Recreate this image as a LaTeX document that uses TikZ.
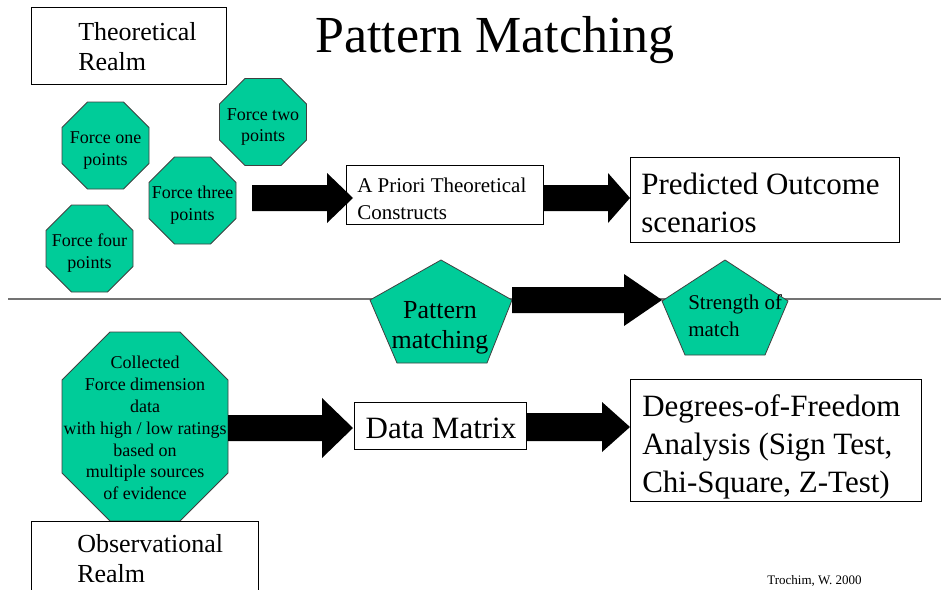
\documentclass[tikz,border=0pt]{standalone}
\usepackage{fontspec}
\setmainfont{Liberation Serif}
\usetikzlibrary{fit,calc}
\definecolor{tealfill}{RGB}{0,204,153}
\newcommand\fsz[2]{\fontsize{#1}{#2}\selectfont}
\newcommand\blockarr[5]{%
  \fill[black] let \p1=(#1), \p2=(#2) in
    (\x1,\y1+#3) -- (\x2-#5,\y1+#3) -- (\x2-#5,\y1+#4) -- (\x2,\y1) --
    (\x2-#5,\y1-#4) -- (\x2-#5,\y1-#3) -- (\x1,\y1-#3) -- cycle;}
% octagon: centre x, centre y, half width, half height, corner cut
\newcommand\octpath[5]{%
  \filldraw[octshape] (#1-#3+#5,#2-#4) -- (#1+#3-#5,#2-#4) -- (#1+#3,#2-#4+#5) --
    (#1+#3,#2+#4-#5) -- (#1+#3-#5,#2+#4) -- (#1-#3+#5,#2+#4) -- (#1-#3,#2+#4-#5) --
    (#1-#3,#2-#4+#5) -- cycle;}
\begin{document}
\begin{tikzpicture}[x=0.75pt,y=-0.75pt,
  box/.style={draw=black, line width=0.75pt, fill=white, inner sep=0pt},
  octshape/.style={draw=black!75, line width=0.6pt, fill=tealfill},
  pent/.style={draw=black!75, line width=0.6pt, fill=tealfill},
  ltxt/.style={inner sep=0pt, align=left, anchor=west},
  ctxt/.style={inner sep=0pt, align=center},
  octfont/.style={font=\fsz{13.5pt}{16.4pt}},
  midfont/.style={font=\fsz{15.75pt}{20.25pt}},
  bigfont/.style={font=\fsz{23.25pt}{28.3pt}},
  realmfont/.style={font=\fsz{19.5pt}{22.5pt}}]
\clip (0,0) rectangle (941,589);
\fill[white] (0,0) rectangle (941,589);

% title
\node[ctxt, font=\fsz{39pt}{45pt}] (title) at (495,40) {Pattern Matching};

% theoretical realm box
\node[box, fit={(31,7)(226,84)}] (theobox) {};
\node[ltxt, realmfont] (theotxt) at (78,47) {Theoretical\\Realm};

% force octagons
\octpath{105.5}{145.5}{43.5}{43.5}{25.5}
\node[ctxt, octfont] (f1t) at (105.5,150.5) {Force one\\points};
\octpath{263}{122}{43.5}{43.5}{25.5}
\node[ctxt, octfont] (f2t) at (263,127) {Force two\\points};
\octpath{192.5}{200.5}{43.5}{43.5}{25.5}
\node[ctxt, octfont] (f3t) at (192.5,205.5) {Force three\\points};
\octpath{89.5}{248.5}{43.5}{43.5}{25.5}
\node[ctxt, octfont] (f4t) at (89.5,253.5) {Force four\\points};

% collected octagon
\octpath{145}{426.5}{83}{94.5}{48}
\node[ctxt, octfont] (colt) at (145,428) {Collected\\Force dimension\\data\\with high / low ratings\\based on\\multiple sources\\of evidence};

% observational realm box
\node[box, fit={(31,521)(258,600)}] (obsbox) {};
\node[ltxt, realmfont] (obstxt) at (77,559) {Observational\\Realm};

% boxes
\node[box, fit={(346,165)(543,224)}] (ap) {};
\node[ltxt, midfont] (apt) at (357,199) {A Priori Theoretical\\Constructs};
\node[box, fit={(630,157)(899,242)}] (po) {};
\node[ltxt, bigfont] (pot) at (641,203) {Predicted Outcome\\scenarios};
\node[box, fit={(354,402)(526,449)}] (dm) {};
\node[ctxt, bigfont] (dmt) at (441,428) {Data Matrix};
\node[box, fit={(630,379)(921,501)}] (dof) {};
\node[ltxt, bigfont] (doft) at (642,447) {Degrees-of-Freedom\\Analysis (Sign Test,\\Chi-Square, Z-Test)};

% separator
\draw[line width=0.9pt, black!55] (8,299) -- (941,299);

% pentagons
\filldraw[pent] (441,260) -- (512,300) -- (487,363) -- (397,363) -- (370,300) -- cycle;
\node[ctxt, realmfont] (pmt) at (440,328) {Pattern\\matching};
\filldraw[pent] (725,260) -- (788,301) -- (765,355) -- (685,355) -- (662,301) -- cycle;
\node[ltxt, midfont] (smt) at (688,316) {Strength of\\match};

% arrow end points
\coordinate (a1s) at (252,198);
\coordinate (a1e) at (353,198);
\coordinate (a2s) at (543,198);
\coordinate (a2e) at (630,198);
\coordinate (a3s) at (228,428);
\coordinate (a3e) at (353,428);
\coordinate (a4s) at (526,427);
\coordinate (a4e) at (630,427);
\coordinate (a5s) at (512,300);
\coordinate (a5e) at (662,300);
\blockarr{a1s}{a1e}{9.75pt}{18.75pt}{19.5pt}
\blockarr{a2s}{a2e}{9.75pt}{18.75pt}{16.5pt}
\blockarr{a3s}{a3e}{9.75pt}{22.5pt}{23.25pt}
\blockarr{a4s}{a4e}{10.5pt}{18.75pt}{21pt}
\blockarr{a5s}{a5e}{9.75pt}{19.5pt}{28.5pt}

% credit
\node[ctxt, font=\fsz{9.75pt}{12pt}] (credit) at (814.5,581) {Trochim, W. 2000};
\end{tikzpicture}
\end{document}
